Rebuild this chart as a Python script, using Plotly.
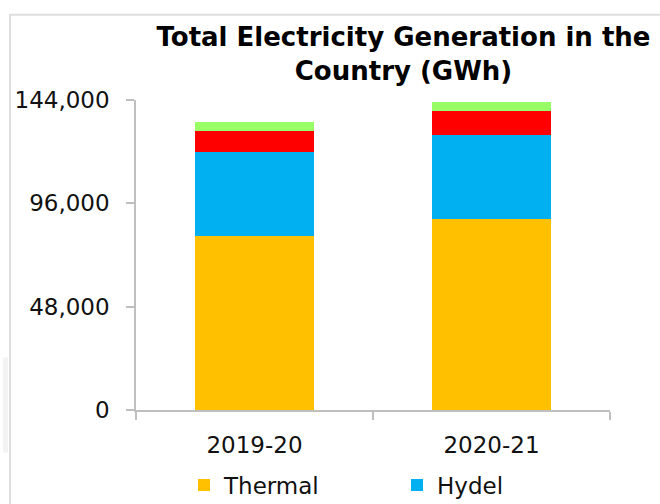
import plotly.graph_objects as go

# Generation by source, GWh
years = ["2019-20", "2020-21"]
thermal = [80900, 88800]
hydel = [38800, 38950]
nuclear = [9750, 11000]
renewable = [4300, 4450]

y_ticks = [0, 48000, 96000, 144000]

W, H = 660, 504
ML, MR, MT, MB = 136, 50, 100, 93.5
PW, PH = W - ML - MR, H - MT - MB


def px_x(x):
    """Pixel column -> paper x."""
    return (x - ML) / PW


def px_y(y):
    """Pixel row -> paper y."""
    return (H - MB - y) / PH


fig = go.Figure()
series = [
    ("Thermal", thermal, "#FFC000", True),
    ("Hydel", hydel, "#00B0F0", True),
    ("Nuclear", nuclear, "#FF0000", False),
    ("Renewable", renewable, "#99FF66", False),
]
for name, vals, color, show in series:
    fig.add_trace(go.Bar(
        x=years, y=vals, name=name,
        marker=dict(color=color, line=dict(width=0)),
        showlegend=show,
    ))

font_main = "DejaVu Sans, sans-serif"

fig.update_layout(
    width=W, height=H,
    barmode="stack",
    bargap=0.5,
    plot_bgcolor="white",
    paper_bgcolor="white",
    margin=dict(l=ML, r=MR, t=MT, b=MB, pad=0, autoexpand=False),
    font=dict(family=font_main, size=23, color="#111111"),
    title=dict(
        text="<b>Total Electricity Generation in the<br>Country (GWh)</b>",
        x=403.5 / W, xanchor="center", xref="container",
        y=1 - 46 / H, yanchor="top", yref="container",
        font=dict(family=font_main, size=26, color="#000000"),
    ),
    xaxis=dict(
        showline=True, linecolor="#BFBFBF", linewidth=1.5,
        ticks="outside", ticklen=8, tickcolor="#BFBFBF", tickwidth=1.5,
        tickson="boundaries", showgrid=False,
        ticklabelstandoff=14,
        tickfont=dict(size=23),
    ),
    yaxis=dict(
        range=[0, 144000], tickvals=y_ticks, tickformat=",d",
        showline=True, linecolor="#BFBFBF", linewidth=1.5,
        ticks="outside", ticklen=8, tickcolor="#BFBFBF", tickwidth=1.5,
        showgrid=False, zeroline=False,
        ticklabelstandoff=12,
        tickfont=dict(size=23),
    ),
    legend=dict(
        orientation="h", x=px_x(184), xanchor="left",
        y=1 - 485 / H, yanchor="middle", yref="container",
        entrywidth=168, traceorder="normal",
        font=dict(size=23),
    ),
    shapes=[
        # outer frame (top and left edges)
        dict(type="line", xref="paper", yref="paper",
             x0=px_x(9), x1=px_x(W + 5), y0=px_y(14.5), y1=px_y(14.5),
             line=dict(color="#DEDEDE", width=2)),
        dict(type="line", xref="paper", yref="paper",
             x0=px_x(10), x1=px_x(10), y0=px_y(14), y1=px_y(H + 5),
             line=dict(color="#DEDEDE", width=2)),
        dict(type="rect", xref="paper", yref="paper",
             x0=px_x(3), x1=px_x(8), y0=px_y(453), y1=px_y(358),
             fillcolor="#F3F3F3", line=dict(width=0), layer="below"),
    ],
)

fig.write_html("out.html")
